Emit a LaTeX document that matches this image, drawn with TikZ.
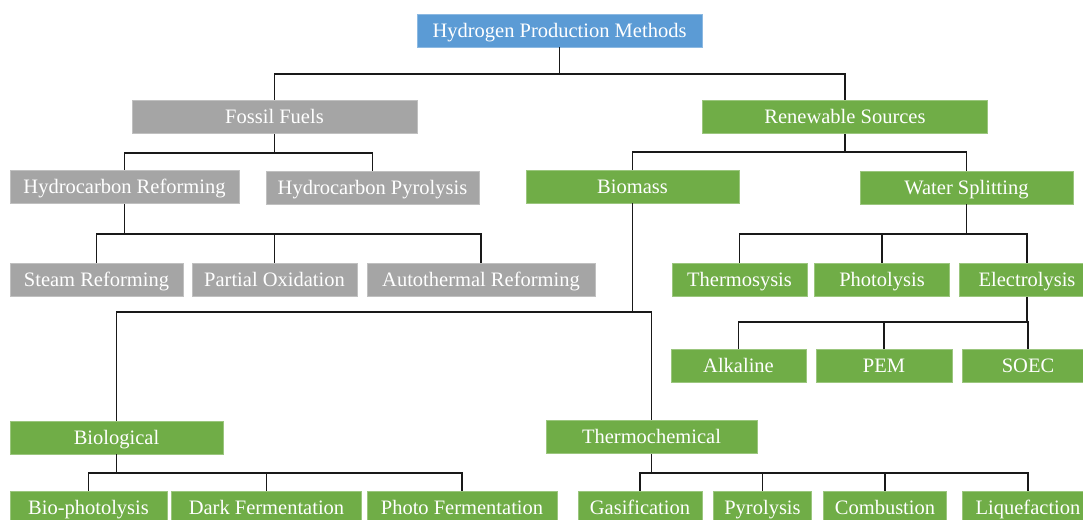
\documentclass[tikz,border=0pt]{standalone}
\usepackage{fontspec}
\setmainfont{Liberation Serif}
\definecolor{methodblue}{HTML}{5B9BD5}
\definecolor{fossilgray}{HTML}{A5A5A5}
\definecolor{renewgreen}{HTML}{70AD47}
\begin{document}
\begin{tikzpicture}[x=1pt, y=-1pt,
  method/.style={minimum height=33pt, inner sep=0pt, text=white, line width=.7pt,
    text height=13.5pt, text depth=0pt, font=\fontsize{20.5}{24}\selectfont},
  topnode/.style={method, fill=methodblue, draw=methodblue!70!white},
  fossilnode/.style={method, fill=fossilgray, draw=fossilgray!70!white},
  renewnode/.style={method, fill=renewgreen, draw=renewgreen!70!white},
  link/.style={line width=1.9pt, black!90}]
\useasboundingbox (0,0) rectangle (1083,519);
\node[topnode, minimum width=285pt] (n1) at (559.5,30.5) {Hydrogen Production Methods};
\node[fossilnode, minimum width=285pt] (n2) at (274.5,117) {Fossil Fuels};
\node[renewnode, minimum width=285pt] (n3) at (845,117) {Renewable Sources};
\node[fossilnode, minimum width=229pt] (n4) at (124.5,187) {Hydrocarbon Reforming};
\node[fossilnode, minimum width=213pt] (n5) at (372.5,188) {Hydrocarbon Pyrolysis};
\node[renewnode, minimum width=213pt] (n6) at (632.5,186.5) {Biomass};
\node[renewnode, minimum width=213pt] (n7) at (966.5,187.5) {Water Splitting};
\node[fossilnode, minimum width=173pt] (n8) at (96.5,279.5) {Steam Reforming};
\node[fossilnode, minimum width=165pt] (n9) at (274.5,279.5) {Partial Oxidation};
\node[fossilnode, minimum width=228pt] (n10) at (481,279.5) {Autothermal Reforming};
\node[renewnode, minimum width=135pt] (n11) at (739.5,280) {Thermosysis};
\node[renewnode, minimum width=135pt] (n12) at (882,279.5) {Photolysis};
\node[renewnode, minimum width=136pt] (n13) at (1027,280) {Electrolysis};
\node[renewnode, minimum width=135pt] (n14) at (738.5,365.5) {Alkaline};
\node[renewnode, minimum width=136pt] (n15) at (884,365.5) {PEM};
\node[renewnode, minimum width=132pt] (n16) at (1028,366) {SOEC};
\node[renewnode, minimum width=213pt] (n17) at (116.5,437.5) {Biological};
\node[renewnode, minimum width=211pt] (n18) at (651.5,437) {Thermochemical};
\node[renewnode, minimum width=157pt] (n19) at (88.5,507.5) {Bio-photolysis};
\node[renewnode, minimum width=190pt] (n20) at (266.5,507.5) {Dark Fermentation};
\node[renewnode, minimum width=190pt] (n21) at (462,507.5) {Photo Fermentation};
\node[renewnode, minimum width=124pt] (n22) at (640,507.5) {Gasification};
\node[renewnode, minimum width=98pt] (n23) at (762.5,507.5) {Pyrolysis};
\node[renewnode, minimum width=123pt] (n24) at (885,507.5) {Combustion};
\node[renewnode, minimum width=132pt] (n25) at (1028,507.5) {Liquefaction};
\draw[link] (n1.south) -- ++(0,26.5) coordinate (j1) -| (n2.north) (j1) -| (n3.north);
\draw[link] (n2.south) -- ++(0,19.5) coordinate (j2) -| (n4.north) (j2) -| (n5.north);
\draw[link] (n3.south) -- ++(0,18.5) coordinate (j3) -| (n6.north) (j3) -| (n7.north);
\draw[link] (n4.south) -- ++(0,30) coordinate (j4) -| (n8.north) (j4) -| (n9.north) (j4) -| (n10.north);
\draw[link] (n7.south) -- ++(0,29.5) coordinate (j7) -| (n11.north) (j7) -| (n12.north) (j7) -| (n13.north);
\draw[link] (n13.south) -- ++(0,25.5) coordinate (j13) -| (n14.north) (j13) -| (n15.north) (j13) -| (n16.north);
\draw[link] (n6.south) -- ++(0,109) coordinate (j6) -| (n17.north) (j6) -| (n18.north);
\draw[link] (n17.south) -- ++(0,19) coordinate (j17) -| (n19.north) (j17) -| (n20.north) (j17) -| (n21.north);
\draw[link] (n18.south) -- ++(0,19.5) coordinate (j18) -| (n22.north) (j18) -| (n23.north) (j18) -| (n24.north) (j18) -| (n25.north);
\end{tikzpicture}
\end{document}
